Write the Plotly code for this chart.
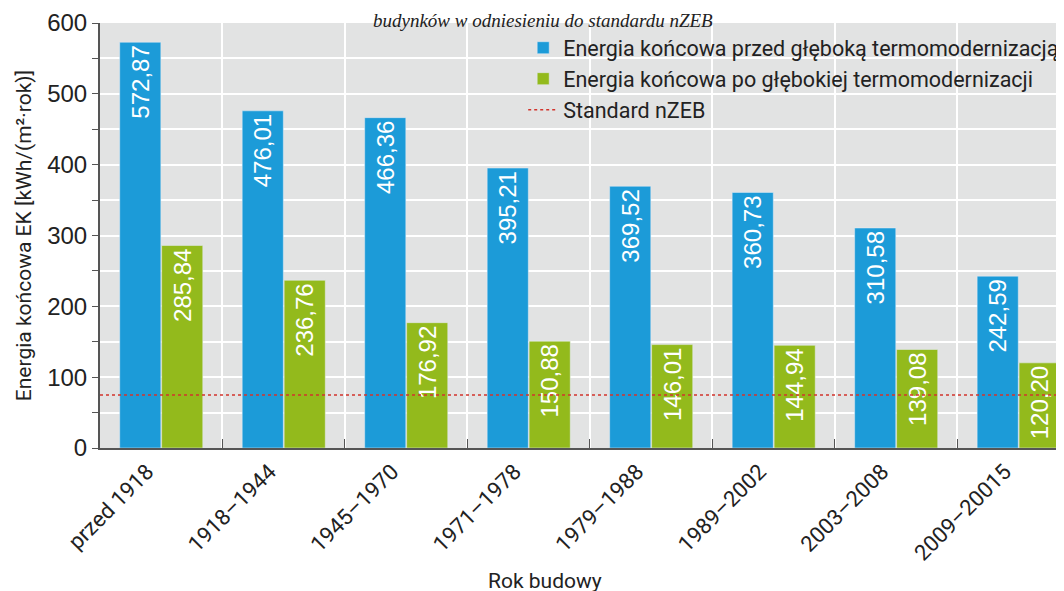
import plotly.graph_objects as go

# Dane
okresy = ['przed 1918', '1918–1944', '1945–1970', '1971–1978',
          '1979–1988', '1989–2002', '2003–2008', '2009–20015']
przed = [572.87, 476.01, 466.36, 395.21, 369.52, 360.73, 310.58, 242.59]
po = [285.84, 236.76, 176.92, 150.88, 146.01, 144.94, 139.08, 120.20]
nzeb = 75

nazwa_przed = 'Energia końcowa przed głęboką termomodernizacją'
nazwa_po = 'Energia końcowa po głębokiej termomodernizacji'
nazwa_nzeb = 'Standard nZEB'

NIEBIESKI = '#1c9bd8'
ZIELONY = '#93ba1c'
CZERWONY = '#d2342c'
FONT = 'Roboto, Liberation Sans, sans-serif'
CYFRY = 'Liberation Sans, Arial, sans-serif'


def etykiety(wartosci):
    # przecinek dziesiętny jak w oryginale
    return [('%.2f' % v).replace('.', ',') for v in wartosci]


fig = go.Figure()

fig.add_trace(go.Bar(
    x=okresy, y=przed, name=nazwa_przed, marker_color=NIEBIESKI,
    text=etykiety(przed),
    textposition='inside', insidetextanchor='end', textangle=-90,
    textfont=dict(color='white', size=24, family=CYFRY)))

fig.add_trace(go.Bar(
    x=okresy, y=po, name=nazwa_po, marker_color=ZIELONY,
    text=etykiety(po),
    textposition='inside', insidetextanchor='end', textangle=-90,
    textfont=dict(color='white', size=24, family=CYFRY)))

# wpis w legendzie dla linii nZEB
fig.add_trace(go.Scatter(
    x=[None], y=[None], mode='lines', name=nazwa_nzeb,
    line=dict(color=CZERWONY, width=1.5, dash='dot')))

fig.add_shape(type='line', xref='paper', yref='y', x0=0, x1=1,
              y0=nzeb, y1=nzeb,
              line=dict(color=CZERWONY, width=1.5, dash='dot'))

# tytuł w oryginale jest ucięty u góry
fig.add_annotation(
    text='<i>budynków w odniesieniu do standardu nZEB</i>',
    xref='paper', yref='paper', x=0.46, y=1.036, yanchor='top',
    showarrow=False, font=dict(family='Liberation Serif, serif', size=19, color='#222'))

fig.add_annotation(
    text='Rok budowy', xref='paper', yref='paper', x=0.462, y=-0.312,
    yanchor='middle', showarrow=False,
    font=dict(family=FONT, size=21, color='#222'))

fig.update_layout(
    width=1064, height=591,
    margin=dict(l=92, r=8, t=15, b=151, autoexpand=False),
    paper_bgcolor='white', plot_bgcolor='#e2e3e3',
    barmode='group', bargap=0.315, bargroupgap=0.02,
    font=dict(family=FONT, color='#222'),
    legend=dict(x=0.439, y=0.99, xanchor='left', yanchor='top',
                bgcolor='rgba(0,0,0,0)', font=dict(size=21.5),
                tracegroupgap=0, itemwidth=30),
    showlegend=True,
)

fig.update_xaxes(
    range=[-0.5, 7.37], tickangle=-45, tickson='boundaries',
    ticks='inside', ticklen=9, tickcolor='#555', ticklabelshift=-14,
    showgrid=True, gridcolor='white', gridwidth=1.5,
    showline=True, linecolor='#555', linewidth=2,
    tickfont=dict(size=22, family=FONT))

fig.update_yaxes(
    range=[0, 600], dtick=100, ticks='outside', ticklen=6, tickcolor='#555',
    minor=dict(dtick=50, ticks='outside', ticklen=6, tickcolor='#555',
               showgrid=True, gridcolor='white', gridwidth=1.5),
    showgrid=True, gridcolor='white', gridwidth=1.5,
    showline=True, linecolor='#555', linewidth=2, zeroline=False,
    tickfont=dict(size=24, family=CYFRY),
    title=dict(text='Energia końcowa EK [kWh/(m²·rok)]',
               font=dict(size=21, family=FONT), standoff=10))

fig.write_html('out.html')
